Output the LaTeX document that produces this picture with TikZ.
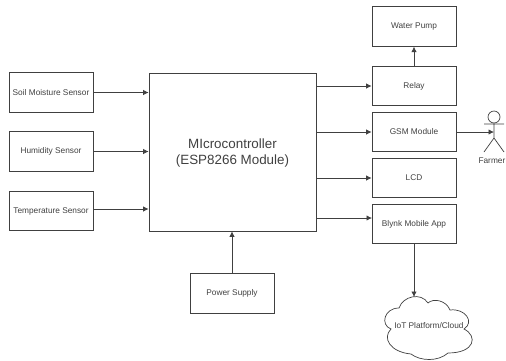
\documentclass[tikz,border=0pt]{standalone}
\usepackage{fontspec}
\setmainfont{Liberation Sans}
\usetikzlibrary{arrows.meta}
\definecolor{ink}{HTML}{404040}
\tikzset{
  x=1pt,y=-1pt,
  labelfont/.style={text=ink,font=\fontsize{8.3}{10}\selectfont},
  blockbox/.style={draw=ink,line width=0.8pt,minimum width=84pt,minimum height=39.5pt,inner sep=0pt,labelfont,anchor=center},
  link/.style={draw=ink,line width=0.8pt,-{Latex[length=5.5pt,width=5.5pt]}},
  actorline/.style={draw=ink,line width=0.7pt},
}
\begin{document}
\begin{tikzpicture}
\useasboundingbox (0,0) rectangle (506,360);
\node[blockbox,minimum width=167pt,minimum height=158pt] (mcu) at (232.5,152) {};
\node[align=center,text=ink,font=\fontsize{13.4}{16}\selectfont,inner sep=0pt] (mculabel) at (232.5,153.5) {MIcrocontroller\\(ESP8266 Module)};
\node[blockbox] (soil) at (51,92.5) {Soil Moisture Sensor};
\node[blockbox] (hum) at (51,151.5) {Humidity Sensor};
\node[blockbox] (temp) at (51,211) {Temperature Sensor};
\node[blockbox] (pump) at (414,26.5) {Water Pump};
\node[blockbox] (relay) at (414,86) {Relay};
\node[blockbox] (gsm) at (414,132) {GSM Module};
\node[blockbox] (lcd) at (414,178) {LCD};
\node[blockbox] (blynk) at (414,224) {Blynk Mobile App};
\node[blockbox] (power) at (232,293.5) {Power Supply};
% cloud outline
\coordinate (cloudtop) at (414,297);
\draw[actorline] (399,308)
  .. controls (403,296) and (421,292) .. (428,303)
  .. controls (433,298) and (446,300) .. (450,310)
  .. controls (465,308) and (475,322) .. (464,329)
  .. controls (478,336) and (475,353) .. (448,353)
  .. controls (438,362) and (420,361) .. (411,354)
  .. controls (390,352) and (382,338) .. (391,329)
  .. controls (380,325) and (384,308) .. (399,308) -- cycle;
\node[labelfont,inner sep=0pt] (iot) at (429,326) {IoT Platform/Cloud};
\draw[link] (soil.east) -- (soil.east -| mcu.west);
\draw[link] (hum.east) -- (hum.east -| mcu.west);
\draw[link] (temp.east) ++(0,-2) coordinate (tempout) (tempout) -- (tempout -| mcu.west);
\draw[link] (mcu.east |- relay.west) -- (relay.west);
\draw[link] (mcu.east |- gsm.west) -- (gsm.west);
\draw[link] (mcu.east |- lcd.west) -- (lcd.west);
\coordinate (blynkin) at (372,218);
\draw[link] (mcu.east |- blynkin) -- (blynkin);
\draw[link] (relay.north) -- (pump.south);
\draw[link] (power.north) -- (power.north |- mcu.south);
\draw[link] (blynk.south) -- (blynk.south |- cloudtop);
% Farmer actor
\node[circle,draw=ink,line width=0.7pt,minimum size=12pt,inner sep=0pt] (head) at (494,117) {};
\coordinate (hip) at (494,138);
\coordinate (armL) at (484,124);
\coordinate (armR) at (504,124);
\coordinate (legL) at (484,152);
\coordinate (legR) at (504,152);
\draw[actorline] (head.south) -- (hip) (armL) -- (armR) (legL) -- (hip) -- (legR);
\coordinate (farmerin) at (494,132);
\draw[link] (gsm.east) -- (farmerin);
\node[labelfont,anchor=east,inner sep=0pt] (farmer) at (505.5,160.5) {Farmer};
\end{tikzpicture}
\end{document}
